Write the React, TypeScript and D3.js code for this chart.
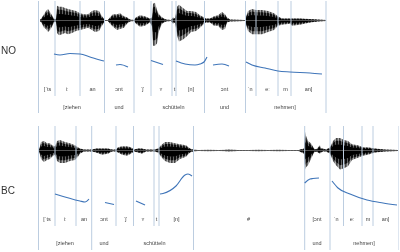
import React from "react";
import * as d3 from "d3";

// time in seconds from the first boundary (100 px per second)
const noLongBounds = [0, 0.66, 0.955, 1.66, 2.07, 2.875];
const noShortBounds = [0.165, 0.415, 1.125, 1.335, 1.375, 2.175, 2.395, 2.525];
const bcLongBounds = [0, 0.532, 1.55, 2.662, 2.915, 3.605];
const bcShortBounds = [0.165, 0.375, 0.775, 0.95, 1.155, 1.205, 3.05, 3.235, 3.345];

const noPhones: [string, number][] = [["[ˈts",0.09],["iː",0.285],["an",0.54],["ɔnt",0.805],["ˈʃ",1.035],["ʏ",1.225],["t",1.36],["[n]",1.525],["ɔnt",1.86],["ˈn",2.115],["eː",2.29],["m",2.47],["an]",2.7]];
const noWords: [string, number][] = [["[ziehen",0.335],["und",0.805],["schütteln",1.35],["und",1.86],["nehmen]",2.465]];
const bcPhones: [string, number][] = [["[ˈts",0.085],["iː",0.265],["an",0.455],["ɔnt",0.655],["ˈʃ",0.865],["ʏ",1.045],["t",1.18],["[n]",1.38],["#",2.1],["[ɔnt",2.785],["ˈn",2.975],["eː",3.135],["m",3.295],["an]",3.47]];
const bcWords: [string, number][] = [["[ziehen",0.265],["und",0.655],["schütteln",1.16],["und",2.785],["nehmen]",3.255]];

const noWaveT = [0.015,0.035,0.055,0.075,0.095,0.115,0.135,0.155,0.165,0.175,0.185,0.205,0.235,0.265,0.295,0.335,0.375,0.415,0.455,0.495,0.535,0.565,0.605,0.635,0.665,0.695,0.715,0.745,0.785,0.815,0.855,0.885,0.915,0.955,0.975,1.015,1.065,1.115,1.135,1.145,1.165,1.185,1.205,1.235,1.275,1.325,1.345,1.365,1.385,1.405,1.445,1.485,1.525,1.575,1.615,1.655,1.675,1.715,1.755,1.795,1.835,1.865,1.885,1.915,2.065,2.095,2.135,2.175,2.235,2.295,2.355,2.395,2.435,2.515,2.535,2.615,2.715,2.795,2.875];
const noWaveUp = [0.5,3,6,9,11,8,5,2,1,2,14,13,13,12,11,10,9,7,6,6,9,10,9,4,0.5,0.5,3,6,6,7,4,3,1,0.5,3,5,4,2,3,16,17,10,6,3,1,0.5,3,2,13,15,12,9,9,8,5,3,2,2,4,5,8,6,3,1,0.5,9,11,10,10,9,7,4,2,2,2,2,1.5,1,0.5];
const noWaveDown = [0.5,3,7,8,11,9,6,2,1,2,12,14,13,12,13,12,10,9,8,7,9,11,10,5,0.5,0.5,3,6,9,8,7,3,1,0.5,3,6,5,2,6,24,24,22,10,3,1,0.5,3,2,14,20,18,15,11,10,7,3,2,2,5,5,9,8,2,1,0.5,10,13,13,13,11,9,5,4,3,5,4,2,1,0.5];
const bcWaveT = [0.005,0.025,0.055,0.085,0.115,0.135,0.165,0.185,0.215,0.265,0.315,0.365,0.395,0.415,0.455,0.495,0.535,0.575,0.635,0.695,0.735,0.775,0.795,0.835,0.885,0.925,0.955,0.995,1.035,1.075,1.155,1.195,1.225,1.265,1.315,1.365,1.415,1.475,1.515,1.545,1.6,1.7,1.8,1.9,2.0,2.1,2.2,2.3,2.4,2.5,2.6,2.655,2.665,2.675,2.695,2.725,2.755,2.775,2.815,2.825,2.845,2.875,2.915,2.945,2.975,3.015,3.055,3.095,3.135,3.195,3.245,3.295,3.365,3.465,3.595];
const bcWaveUp = [0,8,9,7,7,5,4,9,10,8,7,5,3,2,1,1,1,2,2,2,1,1,3,4,4,3,1,2,2,1,1,2,5,8,8,7,6,5,2,1,0.4,0.7,0.4,0.8,0.5,0.4,0.6,0.4,0.6,0.4,0.5,2,18,14,9,7,2,1,5,2,2,1,3,9,12,12,10,9,6,5,3,3,2,1,0.5];
const bcWaveDown = [0,8,11,9,8,6,4,10,12,12,10,9,6,3,1,1,1,2,4,3,1,1,2,4,5,3,1,2,3,1,1,2,6,10,12,12,8,6,2,1,0.4,0.7,0.4,0.8,0.5,0.4,0.6,0.4,0.6,0.4,0.5,3,18,16,14,8,2,1,3,2,1,1,3,10,14,18,17,15,9,7,5,4,2,1,0.5];

// pitch, plotted on a 0..100 relative height
const noPitch: [number, number][][] = [
  [[0.155,31],[0.215,30],[0.315,31.5],[0.415,31],[0.515,28],[0.615,25],[0.655,24]],
  [[0.775,20],[0.815,20.5],[0.895,18]],
  [[1.125,24.5],[1.245,20.5]],
  [[1.375,24],[1.465,21],[1.565,20],[1.615,21],[1.655,23],[1.685,28]],
  [[1.745,20],[1.835,21],[1.905,19]],
  [[2.075,23],[2.135,20],[2.265,17],[2.395,14],[2.515,13],[2.715,12],[2.835,11]],
];
const bcPitch: [number, number][][] = [
  [[0.165,31],[0.415,24],[0.465,23],[0.505,26]],
  [[0.665,22.5],[0.755,20.5]],
  [[0.975,24],[1.065,20]],
  [[1.215,31],[1.245,31.5],[1.375,39],[1.465,50],[1.495,51],[1.535,49]],
  [[2.662,42],[2.715,46],[2.745,46.5],[2.805,47]],
  [[2.935,44],[2.995,37],[3.115,31],[3.285,25],[3.445,22],[3.585,20]],
];

const time = d3.scaleLinear().domain([0, 3.6]).range([38.5, 398.5]);
const amp = d3.scaleLinear().domain([0, 1]).range([0, 1]);

function Panel({ label, labelY, mid, top, longEnd, shortEnd, phoneY, wordY, pitchBase, longB, shortB, waveT, up, down, pitch, phones, words }: any) {
  const pitchY = d3.scaleLinear().domain([0, 100]).range([pitchBase, pitchBase - 100]);
  const wave = (k: number) =>
    d3.area<number>()
      .x((t) => time(t))
      .y0((_, i) => mid - amp(up[i]) * k)
      .y1((_, i) => mid + amp(down[i]) * k)
      .curve(d3.curveLinear)(waveT) as string;
  const line = d3.line<[number, number]>().x((d) => time(d[0])).y((d) => pitchY(d[1])).curve(d3.curveMonotoneX);
  return (
    <g>
      <path d={wave(1.05)} fill="url(#stripes)" />
      <path d={wave(0.82)} fill="url(#stripesDark)" />
      <path d={wave(0.5)} fill="#000" />
      <line x1={time(d3.min(waveT) as number)} x2={time(d3.max(waveT) as number)} y1={mid} y2={mid} stroke="#888" strokeWidth={0.6} />
      {longB.map((t: number) => <line key={t} x1={time(t)} x2={time(t)} y1={top} y2={longEnd} stroke="#bccde0" strokeWidth={1} />)}
      {shortB.map((t: number) => <line key={t} x1={time(t)} x2={time(t)} y1={top} y2={shortEnd} stroke="#bccde0" strokeWidth={1} />)}
      {pitch.map((s: [number, number][], i: number) => <path key={i} d={line(s) as string} fill="none" stroke="#3f75b9" strokeWidth={1.1} />)}
      {phones.map(([s, t]: [string, number], i: number) => <text key={i} x={time(t)} y={phoneY} textAnchor="middle" fontSize={5.5} fill="#444">{s}</text>)}
      {words.map(([s, t]: [string, number], i: number) => <text key={i} x={time(t)} y={wordY} textAnchor="middle" fontSize={5.5} fill="#444">{s}</text>)}
      <text x={1} y={labelY} fontSize={10} fill="#333">{label}</text>
    </g>
  );
}

export default function App() {
  return (
    <svg width={400} height={252} style={{ position: "absolute", left: 0, top: 0, fontFamily: "Liberation Sans, Arial, sans-serif", background: "#fff" }}>
      <defs>
        <filter id="soft" x="0" y="0" width="100%" height="100%">
          <feGaussianBlur stdDeviation="0.3" />
        </filter>
        <pattern id="stripes" width={3} height={4} patternUnits="userSpaceOnUse">
          <rect width={3} height={4} fill="#a8a8a8" />
          <rect width={1.6} height={4} fill="#444" />
        </pattern>
        <pattern id="stripesDark" width={3} height={4} patternUnits="userSpaceOnUse">
          <rect width={3} height={4} fill="#111" />
          <rect x={2} width={0.8} height={4} fill="#777" />
        </pattern>
      </defs>
      <g filter="url(#soft)">
        <Panel label="NO" labelY={54} mid={20.5} top={1} longEnd={113} shortEnd={96} phoneY={90.5} wordY={108.5} pitchBase={85}
          longB={noLongBounds} shortB={noShortBounds} waveT={noWaveT} up={noWaveUp} down={noWaveDown} pitch={noPitch} phones={noPhones} words={noWords} />
        <Panel label="BC" labelY={194} mid={150.5} top={126} longEnd={250} shortEnd={226} phoneY={221} wordY={245} pitchBase={225}
          longB={bcLongBounds} shortB={bcShortBounds} waveT={bcWaveT} up={bcWaveUp} down={bcWaveDown} pitch={bcPitch} phones={bcPhones} words={bcWords} />
      </g>
    </svg>
  );
}
